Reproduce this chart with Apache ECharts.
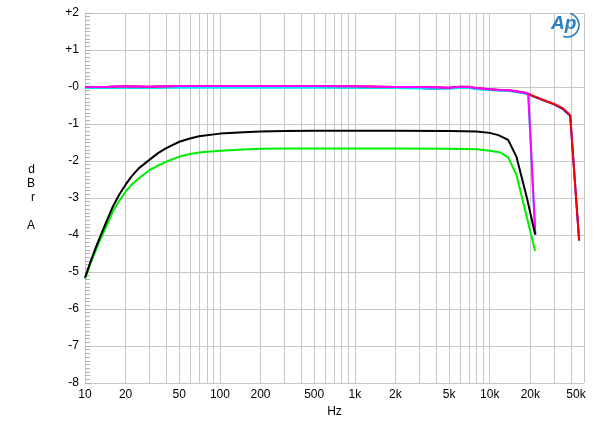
<!DOCTYPE html>
<html>
<head>
<meta charset="utf-8">
<script src="https://cdn.jsdelivr.net/npm/echarts@6/dist/echarts.min.js"></script>
<style>html,body{margin:0;padding:0;background:#fff}#c{width:600px;height:425px}</style>
</head>
<body>
<div id="c"></div>
<script>
// ---- data ----
const xTickLabels = [10, 20, 50, 100, 200, 500, 1000, 2000, 5000, 10000, 20000, 50000];
const xGridValues = [10,20,30,40,50,60,70,80,90,100,200,300,400,500,600,700,800,900,1000,2000,3000,4000,5000,6000,7000,8000,9000,10000,20000,30000,40000,50000];

const redFreq = [10,15,20,30,50,100,200,500,1000,2000,3000,4000,5000,6000,7000,8000,10000,12000,14000,16000,18000,19300,21000,25000,30000,35000,39500,46000];
const redVals = [0.0,0.01,0.02,0.01,0.03,0.03,0.03,0.03,0.02,0.0,0.0,-0.01,-0.02,0.01,0.01,-0.03,-0.06,-0.08,-0.09,-0.12,-0.15,-0.18,-0.24,-0.35,-0.46,-0.58,-0.76,-4.15];

const blueFreq = [10,15,20,30,50,100,200,500,1000,2000,3000,3600,4000,5000,6000,7000,8000,10000,12000,14000,16000,18000,19300,21000,25000,30000,35000,39500,46000];
const blueVals = [-0.01,0.0,0.01,0.0,0.02,0.02,0.02,0.02,0.01,-0.01,-0.02,-0.05,-0.04,-0.03,0.0,0.0,-0.04,-0.07,-0.09,-0.1,-0.13,-0.16,-0.19,-0.25,-0.36,-0.47,-0.6,-0.78,-4.15];

const magentaFreq = [10,15,20,30,50,100,200,500,1000,2000,3000,4000,5000,6000,7000,8000,10000,12000,14000,16000,18000,19300,21800];
const magentaVals = [0.0,0.01,0.02,0.01,0.03,0.03,0.03,0.03,0.02,0.0,0.0,-0.01,-0.02,0.01,0.0,-0.03,-0.06,-0.08,-0.09,-0.12,-0.15,-0.18,-4.0];

const cyanFreq = [10,15,20,30,50,100,200,500,1000,2000,3000,4000,5000,6000,7000,8000,10000,12000,14000,16000,18000,19300,21800];
const cyanVals = [-0.03,-0.03,-0.02,-0.03,-0.02,-0.02,-0.02,-0.02,-0.03,-0.03,-0.04,-0.05,-0.05,-0.03,-0.03,-0.06,-0.08,-0.1,-0.11,-0.14,-0.17,-0.2,-4.0];

const blackFreq = [10,11,12,13,14,16,18,20,22,25,30,35,40,50,60,70,100,150,200,300,500,1000,2000,5000,8000,10000,11600,13700,15800,18800,21700];
const blackVals = [-5.15,-4.72,-4.35,-4.03,-3.75,-3.25,-2.9,-2.64,-2.43,-2.2,-1.97,-1.78,-1.65,-1.48,-1.39,-1.33,-1.26,-1.22,-1.2,-1.19,-1.18,-1.18,-1.18,-1.19,-1.2,-1.24,-1.3,-1.43,-1.89,-2.97,-3.98];

const greenFreq = [10,11,12,13,14,16,18,20,22,25,30,35,40,50,60,70,100,150,200,300,500,1000,2000,5000,8000,10000,12000,13700,15800,18300,21700];
const greenVals = [-5.18,-4.76,-4.42,-4.12,-3.87,-3.38,-3.07,-2.83,-2.65,-2.47,-2.25,-2.12,-2.02,-1.88,-1.81,-1.77,-1.72,-1.69,-1.67,-1.66,-1.66,-1.66,-1.66,-1.67,-1.68,-1.72,-1.77,-1.9,-2.38,-3.33,-4.43];

const yMin = -8, yMax = 2;

function pairs(f, v) { return f.map((x, i) => [x, v[i]]); }

const chart = echarts.init(document.getElementById('c'), null, {renderer: 'canvas'});
const gridColor = '#c8c8c8';
const font = 'Arial, "Liberation Sans", sans-serif';

function mkLine(name, color, f, v, z) {
  return {
    name, type: 'line', data: pairs(f, v), showSymbol: false, symbol: 'none',
    lineStyle: {color, width: 2}, itemStyle: {color}, z, animation: false
  };
}

chart.setOption({
  animation: false,
  backgroundColor: '#fff',
  grid: {left: 85, right: 16, top: 13, bottom: 42, containLabel: false},
  xAxis: {
    type: 'log', logBase: 10, min: 10, max: 50000,
    name: 'Hz', nameLocation: 'middle', nameGap: 23,
    nameTextStyle: {color: '#000', fontSize: 12, fontFamily: font},
    axisLine: {show: true, lineStyle: {color: gridColor}},
    axisTick: {show: false, customValues: xGridValues},
    splitLine: {show: true, lineStyle: {color: gridColor, width: 1}},
    axisLabel: {
      customValues: xTickLabels,
      color: '#000', fontSize: 12, fontFamily: font, margin: 6,
      formatter: function (v) {
        let s = v >= 1000 ? (v / 1000) + 'k' : String(v);
        if (v === 50000) return '{last|' + s + '}';
        return s;
      },
      rich: {last: {color: '#000', fontSize: 12, fontFamily: font, padding: [0, 16, 0, 0]}}
    }
  },
  yAxis: {
    type: 'value', min: yMin, max: yMax, interval: 1,
    name: 'd\nB\nr\n\nA', nameLocation: 'middle', nameRotate: 0, nameGap: 50,
    nameTextStyle: {color: '#000', fontSize: 12, fontFamily: font, lineHeight: 14},
    axisLine: {show: true, lineStyle: {color: gridColor}},
    axisTick: {show: true, inside: true, length: 6, lineStyle: {color: '#b0b0b0'}},
    minorTick: {show: true, splitNumber: 10, length: 5, lineStyle: {color: '#b0b0b0', width: 1}},
    splitLine: {show: true, lineStyle: {color: gridColor, width: 1}},
    axisLabel: {
      color: '#000', fontSize: 12, fontFamily: font, margin: 6,
      formatter: function (v) { return v > 0 ? '+' + v : (v === 0 ? '-0' : String(v)); }
    }
  },
  series: [
    mkLine('blue', '#0000ff', blueFreq, blueVals, 2),
    mkLine('cyan', '#00e5ff', cyanFreq, cyanVals, 3),
    mkLine('red', '#ff0000', redFreq, redVals, 4),
    mkLine('magenta', '#ff00ff', magentaFreq, magentaVals, 5),
    mkLine('green', '#00ee00', greenFreq, greenVals, 6),
    mkLine('black', '#000000', blackFreq, blackVals, 7)
  ],
  graphic: [
    {type: 'arc', shape: {cx: 567, cy: 25, r: 12, startAngle: -1.3, endAngle: 1.9, clockwise: true},
     style: {stroke: '#2a7fc0', lineWidth: 1.6, fill: null}, z: 10},
    {type: 'text', left: 551, top: 14,
     style: {text: 'Ap', fill: '#2a7fc0', font: 'italic bold 19px ' + font}, z: 11}
  ]
});
</script>
</body>
</html>
